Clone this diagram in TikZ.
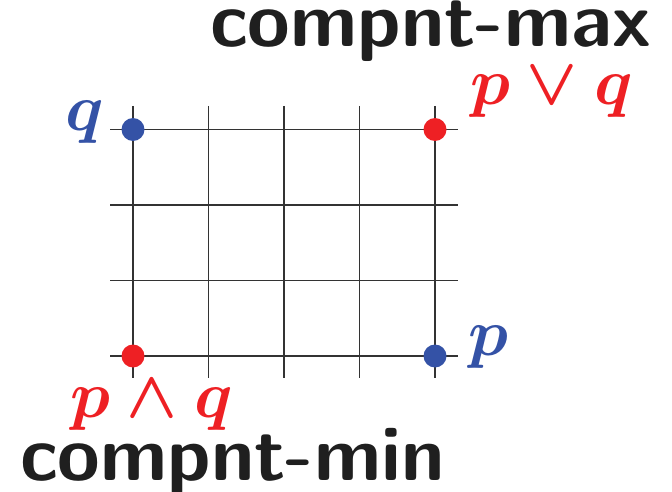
\documentclass[tikz,border=0pt]{standalone}
\usepackage{fix-cm}
\usepackage{amsmath}
\definecolor{dotblue}{HTML}{3452A6}
\definecolor{dotred}{HTML}{EE2024}
\definecolor{gridgray}{HTML}{333333}
\tikzset{
  gridline/.style={draw=gridgray, line width=1.1pt},
  dot/.style={circle, minimum size=23pt, inner sep=0pt},
  mathlabel/.style={anchor=base west, inner sep=0pt, outer sep=0pt, font=\fontsize{66.5}{72}\selectfont\boldmath},
  biglabel/.style={anchor=base west, inner sep=0pt, outer sep=0pt, text=black!88, font=\fontsize{77.5}{84}\selectfont\sffamily\bfseries}
}
\begin{document}
\begin{tikzpicture}[x=1pt,y=-1pt]
\useasboundingbox (0,0) rectangle (672,492);
\foreach \i in {0,...,4} {
  \draw[gridline] ({133+75.5*\i},106) -- ({133+75.5*\i},378);
}
\foreach \j in {0,...,3} {
  \draw[gridline] (110,{129.5+75.5*\j}) -- (458,{129.5+75.5*\j});
}
\node[dot, fill=dotblue] (q) at (133,129.5) {};
\node[dot, fill=dotred] (join) at (435,129.5) {};
\node[dot, fill=dotred] (meet) at (133,356) {};
\node[dot, fill=dotblue] (p) at (435,356) {};
\node[mathlabel, text=dotblue] (ql) at (65,131) {$q$};
\node[mathlabel, text=dotred] (joinl) at (470,105) {$p\vee q$};
\node[mathlabel, text=dotred] (meetl) at (70,417) {$p\wedge q$};
\node[mathlabel, text=dotblue] (pl) at (468,355) {$p$};
\node[biglabel] (maxl) at (210,47) {compnt-max};
\node[biglabel] (minl) at (20,480) {compnt-min};
\end{tikzpicture}
\end{document}
